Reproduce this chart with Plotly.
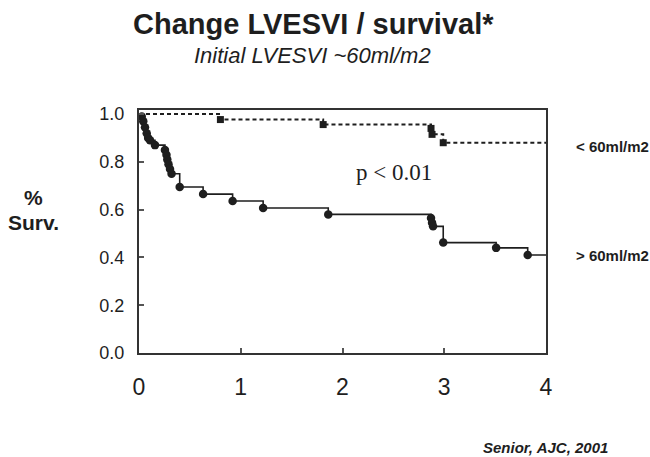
import plotly.graph_objects as go

# ---- data ----
# group with LVESVI > 60 ml/m2 (solid line, circles)
time_hi = [0.027, 0.042, 0.059, 0.076, 0.09, 0.108, 0.157, 0.255, 0.27, 0.278, 0.29,
           0.305, 0.32, 0.40, 0.63, 0.92, 1.22, 1.86, 2.87, 2.88, 2.89, 2.99, 3.51, 3.82]
surv_hi = [0.99, 0.97, 0.945, 0.92, 0.90, 0.89, 0.87, 0.85, 0.83, 0.81, 0.79,
           0.77, 0.75, 0.695, 0.665, 0.636, 0.607, 0.58, 0.565, 0.545, 0.53, 0.462, 0.44, 0.41]
# group with LVESVI < 60 ml/m2 (dotted line, squares)
time_lo = [0.80, 1.81, 2.87, 2.88, 2.99]
surv_lo = [0.977, 0.956, 0.94, 0.915, 0.88]

x_ticks = [0, 1, 2, 3, 4]
y_ticks = [0.0, 0.2, 0.4, 0.6, 0.8, 1.0]
x_end = 4

title = "Change LVESVI / survival*"
subtitle = "Initial LVESVI ~60ml/m2"
label_lo = "< 60ml/m2"
label_hi = "> 60ml/m2"
p_text = "p < 0.01"
source = "Senior, AJC, 2001"

# ---- layout geometry (pixels) ----
W, H = 650, 457
L, R, T, B = 139, 104, 110, 104
ink = "#1e1e1e"
sans = "Liberation Sans, Arial, sans-serif"


def px(xp):
    return (xp - L) / (W - L - R)


def py(yp):
    return (H - B - yp) / (H - T - B)


def km_line(times, surv):
    xs = [0] + list(times) + [x_end]
    ys = [1.0] + list(surv) + [surv[-1]]
    return xs, ys


fig = go.Figure()

xs, ys = km_line(time_lo, surv_lo)
fig.add_trace(go.Scatter(x=xs, y=ys, mode="lines", line_shape="hv",
                         line=dict(color=ink, width=2, dash="4px,3px"),
                         hoverinfo="skip", showlegend=False))
fig.add_trace(go.Scatter(x=time_lo, y=surv_lo, mode="markers",
                         marker=dict(symbol="square", size=7, color=ink),
                         showlegend=False))

xs, ys = km_line(time_hi, surv_hi)
fig.add_trace(go.Scatter(x=xs, y=ys, mode="lines", line_shape="hv",
                         line=dict(color=ink, width=1.6),
                         hoverinfo="skip", showlegend=False))
fig.add_trace(go.Scatter(x=time_hi, y=surv_hi, mode="markers",
                         marker=dict(symbol="circle", size=8.5, color=ink),
                         showlegend=False))

fig.update_xaxes(range=[0, 4], tickvals=x_ticks, ticktext=[str(v) for v in x_ticks],
                 showgrid=False, zeroline=False, showline=True, mirror=True,
                 linecolor="#333", linewidth=2, ticks="inside", ticklen=5,
                 tickwidth=1.5, tickcolor="#555", ticklabelstandoff=12,
                 tickfont=dict(family=sans, size=23, color=ink))
fig.update_yaxes(range=[0, 1.017], tickvals=y_ticks, tickformat=".1f",
                 showgrid=False, zeroline=False, showline=True, mirror=True,
                 linecolor="#333", linewidth=2, ticks="inside", ticklen=5,
                 tickwidth=1.5, tickcolor="#555", ticklabelstandoff=9,
                 tickfont=dict(family=sans, size=18, color=ink))

ann = [
    dict(text="<b>" + title + "</b>", x=px(313), y=py(24), font=dict(family=sans, size=29, color=ink)),
    dict(text="<i>" + subtitle + "</i>", x=px(312), y=py(55), font=dict(family=sans, size=22, color=ink)),
    dict(text="<b>%</b>", x=px(34), y=py(197), font=dict(family=sans, size=21, color=ink)),
    dict(text="<b>Surv.</b>", x=px(34), y=py(222), font=dict(family=sans, size=21, color=ink)),
    dict(text="<b>" + label_lo + "</b>", x=px(574), y=py(146), xanchor="left",
         font=dict(family=sans, size=15, color=ink)),
    dict(text="<b>" + label_hi + "</b>", x=px(574), y=py(256), xanchor="left",
         font=dict(family=sans, size=15, color=ink)),
    dict(text=p_text, x=px(394), y=py(172), font=dict(family="Liberation Serif, Times New Roman, serif", size=23, color=ink)),
    dict(text="<b><i>" + source + "</i></b>", x=px(545), y=py(447), font=dict(family=sans, size=15, color=ink)),
]
for a in ann:
    a.setdefault("xanchor", "center")
    a.update(xref="paper", yref="paper", yanchor="middle", showarrow=False)
fig.update_layout(annotations=ann)

fig.update_layout(width=W, height=H, margin=dict(l=L, r=R, t=T, b=B),
                  paper_bgcolor="white", plot_bgcolor="white",
                  font=dict(family=sans, color=ink))

fig.write_html("out.html")
